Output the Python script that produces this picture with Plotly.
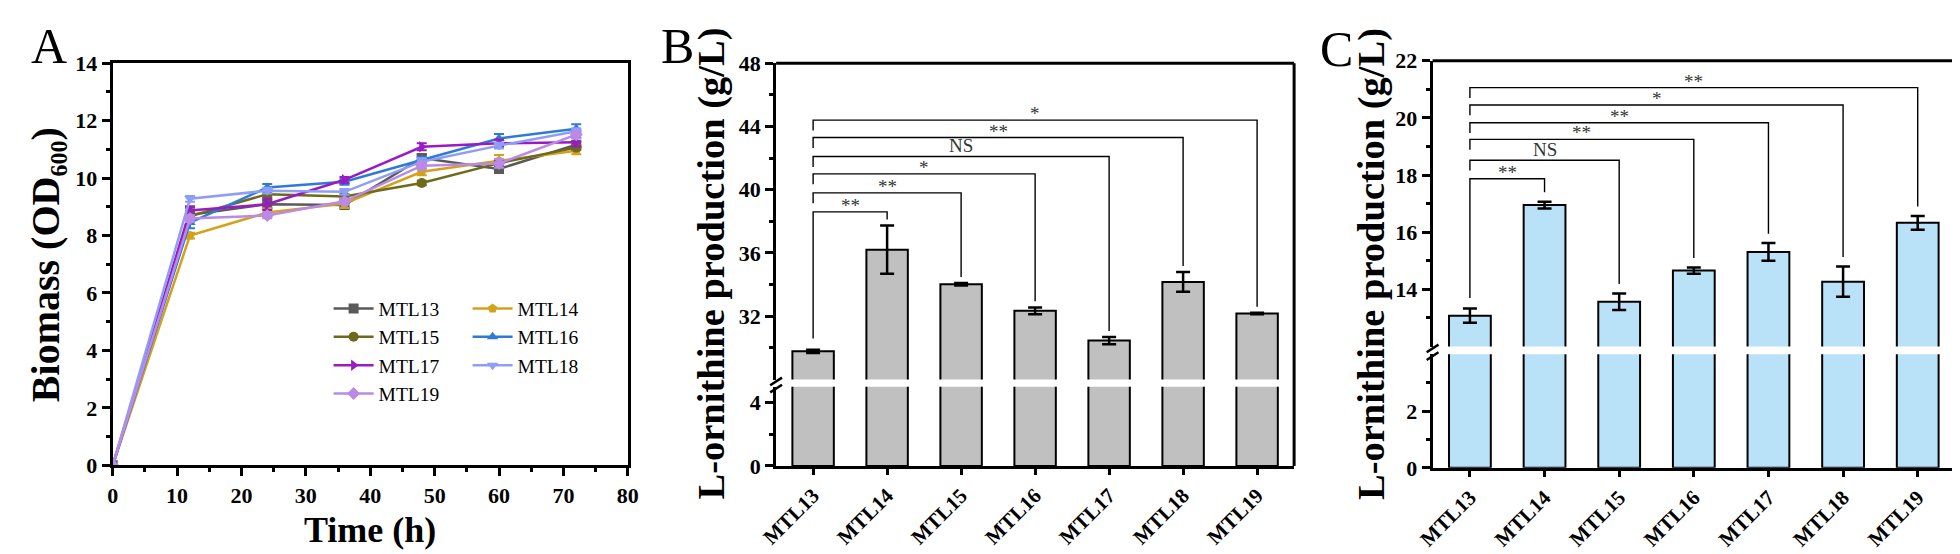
import plotly.graph_objects as go

W, H = 1960, 554

# ---------------- data ----------------
time_h = [0, 12, 24, 36, 48, 60, 72]
strains = ["MTL13", "MTL14", "MTL15", "MTL16", "MTL17", "MTL18", "MTL19"]

od_mtl13 = [0, 8.72, 9.09, 9.06, 10.70, 10.32, 11.16]
od_mtl14 = [0, 8.00, 8.80, 9.11, 10.22, 10.60, 10.95]
od_mtl15 = [0, 8.67, 9.44, 9.36, 9.83, 10.52, 11.06]
od_mtl16 = [0, 8.45, 9.67, 9.87, 10.63, 11.38, 11.72]
od_mtl17 = [0, 8.87, 9.09, 9.94, 11.09, 11.21, 11.25]
od_mtl18 = [0, 9.28, 9.56, 9.52, 10.57, 11.13, 11.63]
od_mtl19 = [0, 8.59, 8.70, 9.19, 10.43, 10.51, 11.51]

od_err13 = [0, 0.25, 0.15, 0.10, 0.12, 0.12, 0.10]
od_err14 = [0, 0.10, 0.15, 0.15, 0.12, 0.20, 0.12]
od_err15 = [0, 0.10, 0.10, 0.08, 0.08, 0.10, 0.08]
od_err16 = [0, 0.20, 0.12, 0.10, 0.10, 0.15, 0.15]
od_err17 = [0, 0.15, 0.20, 0.10, 0.12, 0.12, 0.15]
od_err18 = [0, 0.10, 0.10, 0.10, 0.12, 0.10, 0.10]
od_err19 = [0, 0.12, 0.10, 0.10, 0.12, 0.15, 0.12]

prod_b = [29.78, 36.21, 34.02, 32.34, 30.46, 34.17, 32.17]
err_b = [0.10, 1.53, 0.08, 0.22, 0.23, 0.62, 0.05]
prod_c = [13.08, 16.95, 13.57, 14.66, 15.31, 14.27, 16.33]
err_c = [0.25, 0.12, 0.29, 0.11, 0.31, 0.53, 0.24]

sig_b = ["**", "**", "*", "NS", "**", "*"]
bracket_b = [38.6, 39.8, 41.0, 42.1, 43.3, 44.4]
sig_c = ["**", "NS", "**", "**", "*", "**"]
bracket_c = [17.87, 18.52, 19.25, 19.83, 20.45, 21.06]

series = [
    ("MTL13", od_mtl13, od_err13, "#5A5A5A", "square"),
    ("MTL14", od_mtl14, od_err14, "#D4A21A", "pentagon"),
    ("MTL15", od_mtl15, od_err15, "#6E6A1C", "circle"),
    ("MTL16", od_mtl16, od_err16, "#2E7BD6", "triangle-up"),
    ("MTL17", od_mtl17, od_err17, "#9A1AC4", "triangle-right"),
    ("MTL18", od_mtl18, od_err18, "#8E9EF5", "triangle-down"),
    ("MTL19", od_mtl19, od_err19, "#B98AE6", "diamond"),
]

SERIF = "Liberation Serif"


def fx(p):
    return p / W


def fy(p):
    return 1 - p / H


fig = go.Figure()

# ---------------- Panel A ----------------
for i, (name, vals, errs, col, sym) in enumerate(series):
    fig.add_trace(go.Scatter(
        x=time_h, y=vals, name=name, mode="lines+markers",
        line=dict(color=col, width=2.5),
        marker=dict(color=col, symbol=sym, size=10),
        error_y=dict(type="data", array=errs, color=col, thickness=2, width=5),
        xaxis="x", yaxis="y",
        legend="legend" if i % 2 == 0 else "legend2",
    ))

# ---------------- bar panels ----------------
def bar_panel(vals, errs, color, xa, ylo, yhi, brackets, sigs, leg_short, gap, gap_low):
    for ya, with_err in ((ylo, False), (yhi, True)):
        fig.add_trace(go.Bar(
            x=strains, y=vals, width=0.56,
            marker=dict(color=color, line=dict(color="black", width=2)),
            error_y=dict(type="data", array=errs, visible=with_err,
                         color="black", thickness=2.5, width=7),
            xaxis=xa, yaxis=ya, showlegend=False, hoverinfo="skip",
        ))
    for i, yh in enumerate(brackets):
        j = i + 1
        left_bottom = vals[0] + errs[0] + gap_low if i == 0 else yh - leg_short
        fig.add_trace(go.Scatter(
            x=[strains[0], strains[0], strains[j], strains[j]],
            y=[left_bottom, yh, yh, vals[j] + errs[j] + gap],
            mode="lines", line=dict(color="black", width=1.4),
            xaxis=xa, yaxis=yhi, showlegend=False, hoverinfo="skip",
        ))
        fig.add_annotation(
            x=j / 2, y=yh, xref=xa, yref=yhi, text=sigs[i], showarrow=False,
            xanchor="center", yanchor="bottom", yshift=-6 if sigs[i] != "NS" else -2,
            font=dict(family=SERIF, size=19, color="#333333"),
        )


bar_panel(prod_b, err_b, "#C0C0C0", "x2", "y2", "y3", bracket_b, sig_b, 0.66, 0.38, 0.72)
bar_panel(prod_c, err_c, "#B9E2F9", "x3", "y4", "y5", bracket_c, sig_c, 0.36, 0.33, 0.37)

tickfont = dict(family=SERIF, size=22, color="black", weight="bold")
axis_common = dict(showline=True, linecolor="black", linewidth=3, ticks="outside",
                   ticklen=8, tickwidth=3, tickcolor="black", showgrid=False,
                   zeroline=False, tickfont=tickfont)

# geometry (pixels)
A_x0, A_x1, A_y0, A_y1 = 89, 611.5, 466.4, 45.2
B_x0, B_x1 = 762, 1287.5
B_lo = (467, 384)
B_hi = (376.5, 45.2)
C_x0, C_x1 = 1428, 1958
C_lo = (469, 350)
C_hi = (342, 42.7)

cat_x = dict(axis_common, type="category", range=[-0.5, 6.5], tickangle=-45,
             tickfont=dict(family=SERIF, size=21, color="black", weight="bold"), ticklen=6)

fig.update_layout(
    width=W, height=H, margin=dict(l=0, r=0, t=0, b=0),
    paper_bgcolor="white", plot_bgcolor="rgba(0,0,0,0)",
    font=dict(family=SERIF, color="black"),
    xaxis=dict(axis_common, domain=[fx(A_x0), fx(A_x1)], anchor="y", range=[0, 80],
               dtick=10, mirror=True,
               minor=dict(dtick=5, ticklen=4, tickwidth=2.5, ticks="outside", tickcolor="black")),
    yaxis=dict(axis_common, domain=[fy(A_y0), fy(A_y1)], anchor="x", range=[0, 14],
               dtick=2, mirror=True,
               minor=dict(dtick=1, ticklen=4, tickwidth=2.5, ticks="outside", tickcolor="black")),
    xaxis2=dict(cat_x, domain=[fx(B_x0), fx(B_x1)], anchor="y2"),
    yaxis2=dict(axis_common, domain=[fy(B_lo[0]), fy(B_lo[1])], anchor="x2", range=[0, 5],
                tickvals=[0, 4],
                minor=dict(tickvals=[2], ticklen=4, tickwidth=2.5, ticks="outside", tickcolor="black")),
    yaxis3=dict(axis_common, domain=[fy(B_hi[0]), fy(B_hi[1])], anchor="x2", range=[28, 48],
                tickvals=[32, 36, 40, 44, 48],
                minor=dict(tickvals=[30, 34, 38, 42, 46], ticklen=4, tickwidth=2.5,
                           ticks="outside", tickcolor="black")),
    xaxis3=dict(cat_x, domain=[fx(C_x0), fx(C_x1)], anchor="y4"),
    yaxis4=dict(axis_common, domain=[fy(C_lo[0]), fy(C_lo[1])], anchor="x3", range=[0, 4],
                tickvals=[0, 2],
                minor=dict(tickvals=[1, 3], ticklen=4, tickwidth=2.5, ticks="outside", tickcolor="black")),
    yaxis5=dict(axis_common, domain=[fy(C_hi[0]), fy(C_hi[1])], anchor="x3", range=[12, 22],
                tickvals=[14, 16, 18, 20, 22],
                minor=dict(tickvals=[13, 15, 17, 19, 21], ticklen=4, tickwidth=2.5,
                           ticks="outside", tickcolor="black")),
    legend=dict(x=fx(308), y=fy(282), xanchor="left", yanchor="top",
                bgcolor="rgba(0,0,0,0)", font=dict(family=SERIF, size=19.5, color="black"),
                itemwidth=40, tracegroupgap=0),
    legend2=dict(x=fx(449), y=fy(282), xanchor="left", yanchor="top",
                 bgcolor="rgba(0,0,0,0)", font=dict(family=SERIF, size=19.5, color="black"),
                 itemwidth=40, tracegroupgap=0),
)

# frames (top and right borders of bar panels) and axis break marks
shapes = []
for x0, x1, ytop, ybot in ((B_x0, B_x1, B_hi[1], B_lo[0]), (C_x0, C_x1, C_hi[1], C_lo[0])):
    shapes.append(dict(type="line", xref="paper", yref="paper", x0=fx(x0), x1=fx(x1),
                       y0=fy(ytop), y1=fy(ytop), line=dict(color="black", width=3)))
    shapes.append(dict(type="line", xref="paper", yref="paper", x0=fx(x1), x1=fx(x1),
                       y0=fy(ytop), y1=fy(ybot), line=dict(color="black", width=3)))
for xa, ylo_top, yhi_bot in ((B_x0, B_lo[1], B_hi[0]), (C_x0, C_lo[1], C_hi[0])):
    for yb in (ylo_top + 2, yhi_bot + 2):
        shapes.append(dict(type="line", xref="paper", yref="paper",
                           x0=fx(xa - 6), x1=fx(xa + 6), y0=fy(yb + 4), y1=fy(yb - 4),
                           line=dict(color="black", width=2.5)))
fig.update_layout(shapes=shapes)

# titles and panel letters
title_font = dict(family=SERIF, size=38.5, color="black", weight="bold")
title_font_a = dict(family=SERIF, size=40, color="black", weight="bold")


def label(text, px, py, font, angle=0):
    fig.add_annotation(text=text, x=fx(px), y=fy(py), xref="paper", yref="paper",
                       xanchor="center", yanchor="middle", showarrow=False,
                       textangle=angle, font=font)


label("Time (h)", 350, 534, dict(family=SERIF, size=36, color="black", weight="bold"))
label("Biomass (OD\u2086\u2080\u2080)", 21, 256, title_font_a, -90)
label("L-ornithine production (g/L)", 696, 255, title_font, -90)
label("L-ornithine production (g/L)", 1366, 255, title_font, -90)
for letter, px, py in (("A", 24, 27), ("B", 662, 27), ("C", 1330, 30)):
    label(letter, px, py, dict(family=SERIF, size=50, color="black"))

fig.write_html("out.html")
